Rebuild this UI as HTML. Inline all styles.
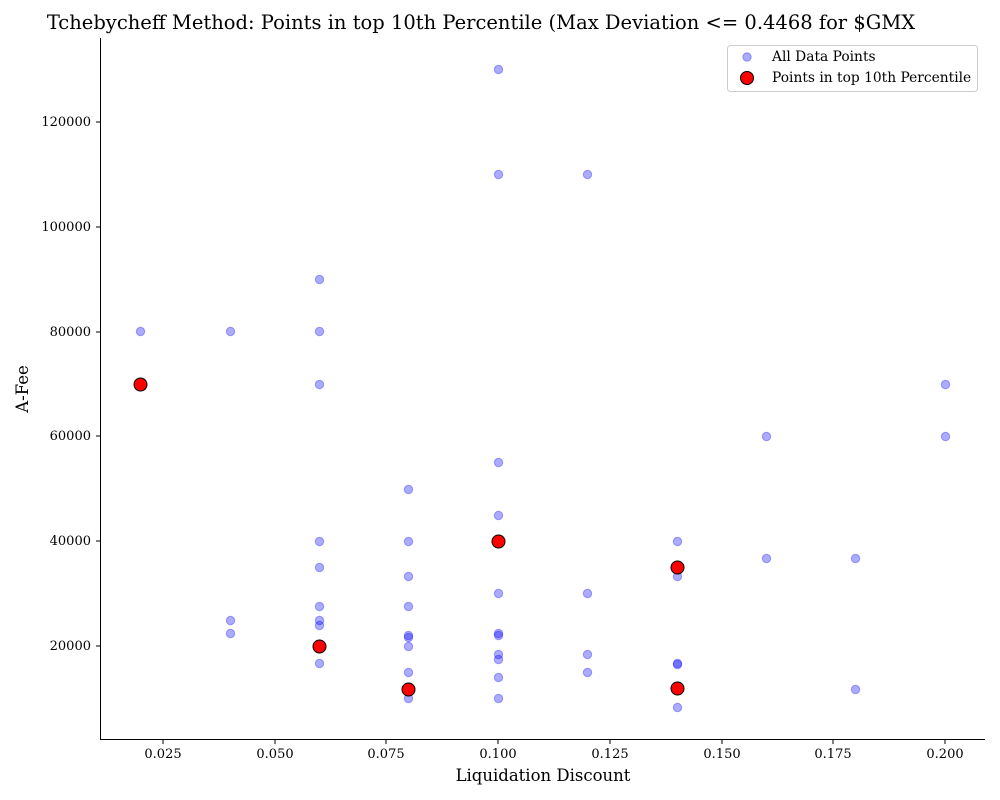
<!DOCTYPE html>
<html><head><meta charset="utf-8"><style>
html,body{margin:0;padding:0;background:#fff;}
svg{display:block;font-family:"DejaVu Serif","Liberation Serif",serif;}
</style></head><body>
<svg width="1000" height="800" viewBox="0 0 1000 800" xmlns="http://www.w3.org/2000/svg">
<rect width="1000" height="800" fill="#fff"/>
<text x="481" y="29" font-size="19.5" text-anchor="middle" fill="#000">Tchebycheff Method: Points in top 10th Percentile (Max Deviation &lt;= 0.4468 for $GMX</text>
<g transform="translate(0.5,0.5)">
<g fill="#0000ff" fill-opacity="0.33" stroke="#0000ff" stroke-opacity="0.33" stroke-width="1">
<circle cx="140" cy="331" r="4.2"/>
<circle cx="230" cy="331" r="4.2"/><circle cx="230" cy="620" r="4.2"/><circle cx="230" cy="633" r="4.2"/>
<circle cx="319" cy="279" r="4.2"/><circle cx="319" cy="331" r="4.2"/><circle cx="319" cy="384" r="4.2"/><circle cx="319" cy="541" r="4.2"/><circle cx="319" cy="567" r="4.2"/><circle cx="319" cy="606" r="4.2"/><circle cx="319" cy="620" r="4.2"/><circle cx="319" cy="625" r="4.2"/><circle cx="319" cy="663" r="4.2"/>
<circle cx="408" cy="489" r="4.2"/><circle cx="408" cy="541" r="4.2"/><circle cx="408" cy="576" r="4.2"/><circle cx="408" cy="606" r="4.2"/><circle cx="408" cy="635" r="4.2"/><circle cx="408" cy="637" r="4.2"/><circle cx="408" cy="646" r="4.2"/><circle cx="408" cy="672" r="4.2"/><circle cx="408" cy="698" r="4.2"/>
<circle cx="498" cy="69" r="4.2"/><circle cx="498" cy="174" r="4.2"/><circle cx="498" cy="462" r="4.2"/><circle cx="498" cy="515" r="4.2"/><circle cx="498" cy="593" r="4.2"/><circle cx="498" cy="633" r="4.2"/><circle cx="498" cy="635" r="4.2"/><circle cx="498" cy="654" r="4.2"/><circle cx="498" cy="659" r="4.2"/><circle cx="498" cy="677" r="4.2"/><circle cx="498" cy="698" r="4.2"/>
<circle cx="587" cy="174" r="4.2"/><circle cx="587" cy="593" r="4.2"/><circle cx="587" cy="654" r="4.2"/><circle cx="587" cy="672" r="4.2"/>
<circle cx="677" cy="541" r="4.2"/><circle cx="677" cy="576" r="4.2"/><circle cx="677" cy="663" r="4.2"/><circle cx="677" cy="664" r="4.2"/><circle cx="677" cy="707" r="4.2"/>
<circle cx="766" cy="436" r="4.2"/><circle cx="766" cy="558" r="4.2"/>
<circle cx="855" cy="558" r="4.2"/><circle cx="855" cy="689" r="4.2"/>
<circle cx="945" cy="384" r="4.2"/><circle cx="945" cy="436" r="4.2"/>
</g>
<g fill="#ff0000" stroke="#000" stroke-width="1">
<circle cx="140" cy="384" r="6.5"/><circle cx="319" cy="646" r="6.5"/><circle cx="408" cy="689" r="6.5"/><circle cx="498" cy="541" r="6.5"/><circle cx="677" cy="567" r="6.5"/><circle cx="677" cy="688" r="6.5"/>
</g>
</g>
<g stroke="#000" stroke-width="1">
<line x1="100.5" y1="38" x2="100.5" y2="739.5"/>
<line x1="100" y1="739.5" x2="985" y2="739.5"/>
<line x1="163" y1="739.5" x2="163" y2="744"/><line x1="275" y1="739.5" x2="275" y2="744"/><line x1="386" y1="739.5" x2="386" y2="744"/><line x1="498" y1="739.5" x2="498" y2="744"/><line x1="610" y1="739.5" x2="610" y2="744"/><line x1="722" y1="739.5" x2="722" y2="744"/><line x1="833" y1="739.5" x2="833" y2="744"/><line x1="945" y1="739.5" x2="945" y2="744"/>
<line x1="96" y1="122" x2="100" y2="122"/><line x1="96" y1="227" x2="100" y2="227"/><line x1="96" y1="332" x2="100" y2="332"/><line x1="96" y1="436" x2="100" y2="436"/><line x1="96" y1="541" x2="100" y2="541"/><line x1="96" y1="646" x2="100" y2="646"/>
</g>
<g font-size="13" fill="#000" text-anchor="middle">
<text x="163" y="758">0.025</text><text x="275" y="758">0.050</text><text x="386" y="758">0.075</text><text x="498" y="758">0.100</text><text x="610" y="758">0.125</text><text x="722" y="758">0.150</text><text x="833" y="758">0.175</text><text x="945" y="758">0.200</text>
</g>
<g font-size="13" fill="#000" text-anchor="end">
<text x="91" y="126">120000</text><text x="91" y="231">100000</text><text x="91" y="336">80000</text><text x="91" y="440">60000</text><text x="91" y="545">40000</text><text x="91" y="650">20000</text>
</g>
<text x="543" y="781" font-size="16.5" text-anchor="middle">Liquidation Discount</text>
<text transform="translate(28,389) rotate(-90)" font-size="16.5" text-anchor="middle">A-Fee</text>
<rect x="727.5" y="45.5" width="250" height="46" rx="3" fill="#fff" fill-opacity="0.8" stroke="#ccc"/>
<circle cx="747" cy="57" r="4.2" fill="#0000ff" fill-opacity="0.33" stroke="#0000ff" stroke-opacity="0.33"/>
<circle cx="747" cy="78" r="6.5" fill="#ff0000" stroke="#000"/>
<text x="772" y="61" font-size="13.8">All Data Points</text>
<text x="772" y="82" font-size="13.8">Points in top 10th Percentile</text>
</svg>
</body></html>
